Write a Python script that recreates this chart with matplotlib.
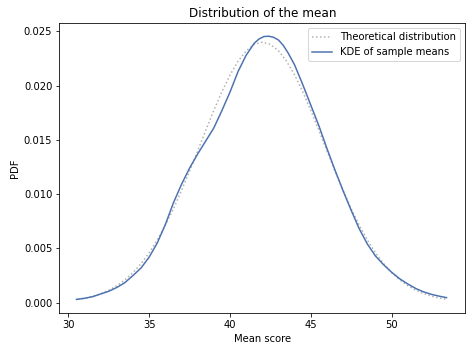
import matplotlib
matplotlib.use("Agg")
import matplotlib.pyplot as plt

# theoretical normal curve
theory_x = [30.6, 31.0, 31.5, 32.0, 32.5, 33.0, 33.5, 34.0, 34.5, 35.0, 35.5, 36.0,
            36.5, 37.0, 37.5, 38.0, 38.5, 39.0, 39.5, 40.0, 40.5, 41.0, 41.5, 42.0,
            42.5, 43.0, 43.5, 44.0, 44.5, 45.0, 45.5, 46.0, 46.5, 47.0, 47.5, 48.0,
            48.5, 49.0, 49.5, 50.0, 50.5, 51.0, 51.5, 52.0, 52.5, 53.0, 53.4]
theory_y = [0.0003, 0.00041, 0.00058, 0.00082, 0.00114, 0.00156, 0.0021, 0.00277,
            0.0036, 0.0046, 0.00577, 0.00713, 0.00865, 0.01033, 0.01212, 0.01399,
            0.01588, 0.01772, 0.01944, 0.02097, 0.02225, 0.0232, 0.0238, 0.0240,
            0.0238, 0.0232, 0.02225, 0.02097, 0.01944, 0.01772, 0.01588, 0.01399,
            0.01212, 0.01033, 0.00865, 0.00713, 0.00577, 0.0046, 0.0036, 0.00277,
            0.0021, 0.00156, 0.00114, 0.00082, 0.00058, 0.00041, 0.0003]

# KDE of the sample means
kde_x = [30.5, 31.0, 31.5, 32.0, 32.5, 33.0, 33.5, 34.0, 34.5, 35.0, 35.5, 36.0,
         36.5, 37.0, 37.5, 38.0, 38.5, 39.0, 39.5, 40.0, 40.5, 41.0, 41.5, 41.8,
         42.1, 42.4, 42.7, 43.0, 43.3, 43.6, 44.0, 44.5, 45.0, 45.5, 46.0, 46.5,
         47.0, 47.5, 48.0, 48.5, 49.0, 49.5, 50.0, 50.5, 51.0, 51.5, 52.0, 52.5,
         53.0, 53.4]
kde_y = [0.0003, 0.0004, 0.00055, 0.0008, 0.00105, 0.0014, 0.00185, 0.0025,
         0.0032, 0.0042, 0.0055, 0.0072, 0.0092, 0.0109, 0.0124, 0.0137,
         0.0149, 0.0161, 0.0177, 0.0194, 0.0213, 0.0228, 0.0239, 0.0243,
         0.02452, 0.02455, 0.02445, 0.0242, 0.0237, 0.0230, 0.0219, 0.0201,
         0.0182, 0.0163, 0.0142, 0.0122, 0.0103, 0.0085, 0.0068, 0.0054,
         0.0043, 0.0035, 0.0028, 0.0022, 0.00172, 0.0013, 0.00098, 0.00075,
         0.00058, 0.00046]

fig = plt.figure(figsize=(472 / 72, 352 / 72), dpi=72)
ax = fig.add_axes([0.1257, 0.110, 0.8601, 0.8238])

ax.plot(theory_x, theory_y, linestyle=":", color="#b0b0b0", lw=1.5,
        label="Theoretical distribution")
ax.plot(kde_x, kde_y, color="#4c72b0", lw=1.5, label="KDE of sample means")

ax.set_xlim(29.44, 54.56)
ax.set_ylim(-0.00098, 0.02574)
ax.set_title("Distribution of the mean", fontsize=12)
ax.set_xlabel("Mean score")
ax.set_ylabel("PDF")
ax.legend(loc="upper right")

fig.savefig("out.png", dpi=72)
